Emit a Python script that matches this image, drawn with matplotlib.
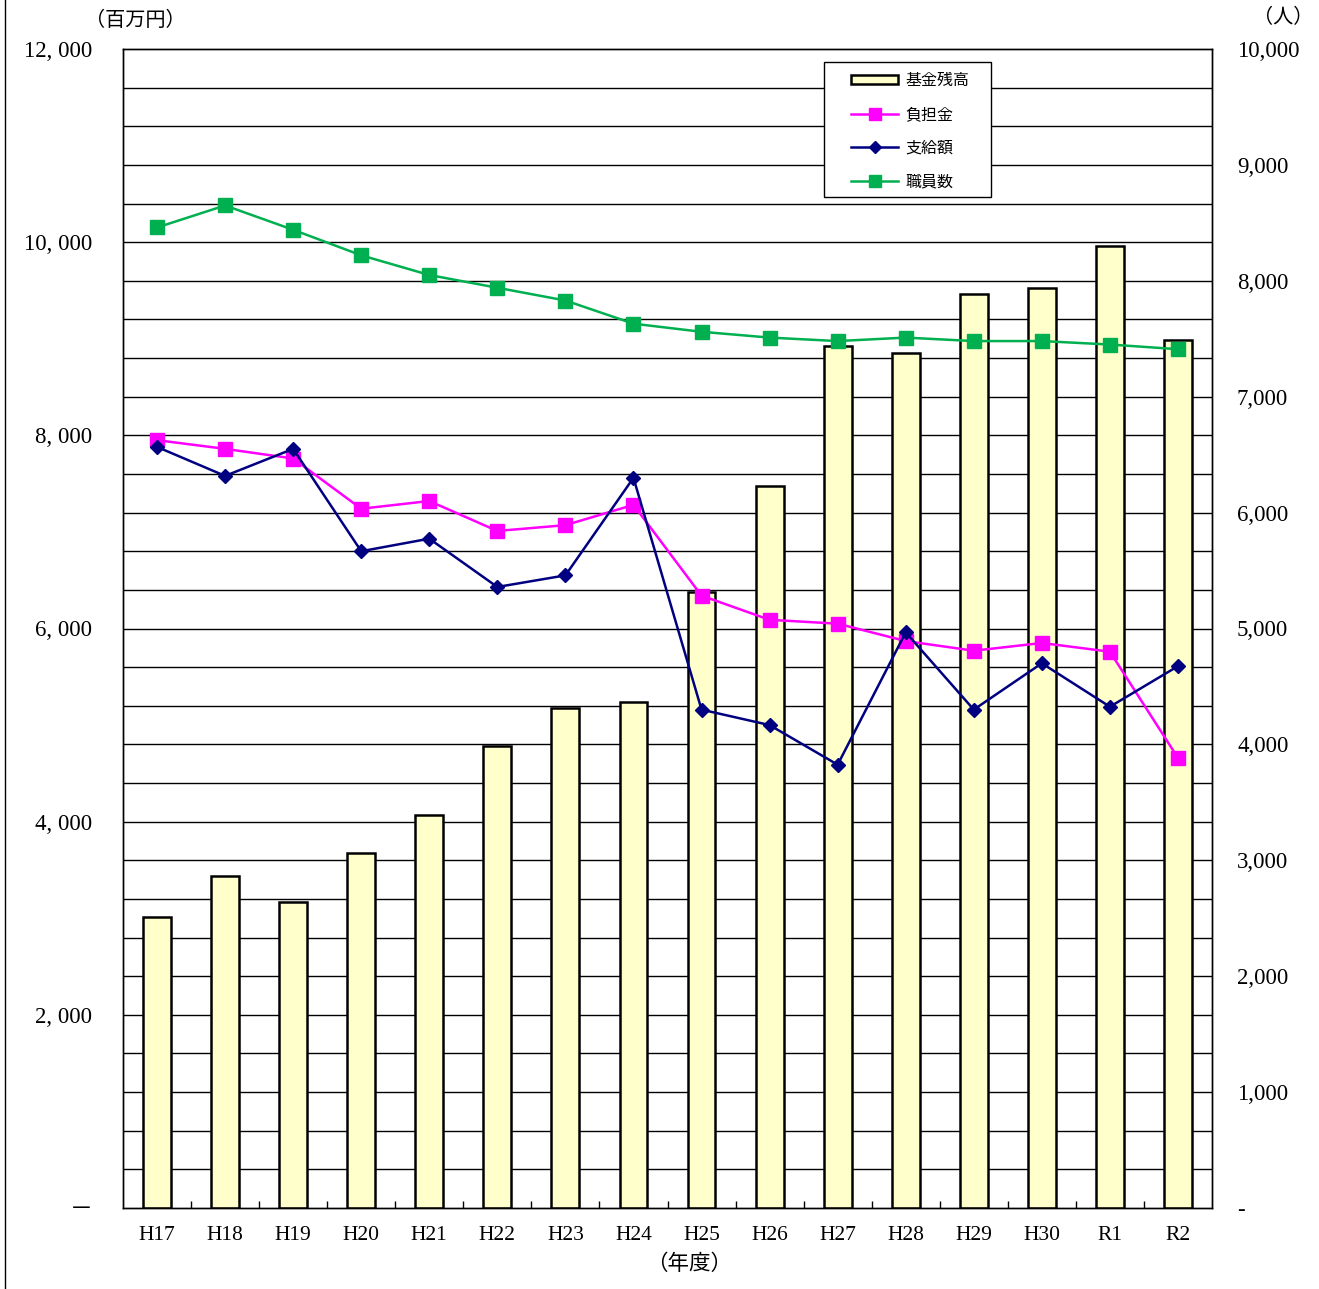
import matplotlib
matplotlib.use("Agg")
import matplotlib.pyplot as plt
import numpy as np
from matplotlib.patches import Rectangle
from matplotlib.ticker import FixedLocator

plt.rcParams["font.family"] = ["Liberation Serif", "Noto Sans CJK JP", "DejaVu Sans"]

years = ["H17", "H18", "H19", "H20", "H21", "H22", "H23", "H24",
         "H25", "H26", "H27", "H28", "H29", "H30", "R1", "R2"]
fund_balance = [3010, 3440, 3170, 3680, 4070, 4780, 5180, 5240,
                6380, 7480, 8930, 8850, 9460, 9530, 9960, 8990]
contribution = [7950, 7860, 7760, 7240, 7320, 7010, 7070, 7280,
                6340, 6090, 6050, 5870, 5770, 5850, 5760, 4660]
payment = [7880, 7580, 7860, 6800, 6930, 6430, 6550, 7560,
           5160, 5000, 4590, 5960, 5160, 5640, 5190, 5610]
staff = [8460, 8650, 8440, 8220, 8050, 7940, 7830, 7630,
         7560, 7510, 7480, 7510, 7480, 7480, 7450, 7410]

W, H = 1319, 1289
fig = plt.figure(figsize=(W / 100, H / 100), dpi=100)
ax = fig.add_axes([123 / W, 1 - 1208 / H, (1212 - 123) / W, (1208 - 49) / H])
ax2 = ax.twinx()

x = np.arange(len(years))
ax.set_zorder(1)
ax.patch.set_visible(False)
ax2.set_zorder(0)

# horizontal grid every 400 on the left scale
for v in np.arange(400, 12000, 400):
    ax.axhline(v, color="black", lw=1.0, zorder=0)

bars = ax.bar(x, fund_balance, width=0.41, color="#FFFFCC", edgecolor="black",
              linewidth=1.8, label="基金残高", zorder=2)
l1, = ax.plot(x, contribution, color="#FF00FF", lw=1.8, marker="s", ms=10,
              label="負担金", zorder=3)
l2, = ax.plot(x, payment, color="#000080", lw=1.8, marker="D", ms=7,
              label="支給額", zorder=4)
l3, = ax.plot(np.nan, np.nan, color="#00B050", lw=1.8, marker="s", ms=10,
              label="職員数")
# staff is on the right scale (0-10000); map to left scale for drawing order
ax.plot(x, np.array(staff) * 12000 / 10000, color="#00B050", lw=1.8,
        marker="s", ms=10, zorder=3)

ax.set_xlim(-0.5, len(years) - 0.5)
ax.set_ylim(0, 12000)
ax2.set_ylim(0, 10000)

ax.set_yticks(np.arange(0, 12001, 2000))
ax.set_yticklabels(["－"] + [f"{v:,}".replace(",", ", ") for v in range(2000, 12001, 2000)],
                   fontsize=16.5)
ax2.set_yticks(np.arange(0, 10001, 1000))
ax2.set_yticklabels(["-"] + [f"{v:,}" for v in range(1000, 10001, 1000)], fontsize=16.5)
ax.tick_params(axis="y", length=0, pad=22)
ax2.tick_params(axis="y", length=0, pad=18)

ax.set_xticks(x)
ax.set_xticklabels(years, fontsize=15.5)
ax.tick_params(axis="x", length=0, pad=13)
ax.xaxis.set_minor_locator(FixedLocator(np.arange(0.5, len(years) - 1, 1)))
ax.tick_params(axis="x", which="minor", direction="in", length=5, width=1)

for a in (ax, ax2):
    for s in a.spines.values():
        s.set_linewidth(1.0)
        s.set_color("black")

ax.text((689 - 123) / 1089, -0.039, "（年度）", transform=ax.transAxes, ha="center",
        va="top", fontsize=15.5, family=["Noto Sans CJK JP"])
fig.text(135 / W, 1 - 20 / H, "（百万円）", ha="center", va="center", fontsize=14.5,
         family=["Noto Sans CJK JP"])
fig.text(1283 / W, 1 - 18 / H, "（人）", ha="center", va="center", fontsize=14.5,
         family=["Noto Sans CJK JP"])

# legend box drawn separately, entries placed inside it
fig.add_artist(Rectangle((824 / W, 1 - 197 / H), (991 - 824) / W, (197 - 62) / H,
                         transform=fig.transFigure, facecolor="white",
                         edgecolor="black", lw=1.0, zorder=9))
leg = fig.legend([bars, l1, l2, l3], ["基金残高", "負担金", "支給額", "職員数"],
                 loc="upper left", bbox_to_anchor=(851 / W, 1 - 72 / H),
                 borderaxespad=0, borderpad=0,
                 prop={"family": ["Noto Sans CJK JP"], "size": 11.5},
                 frameon=False, handlelength=2.95, handletextpad=0.45,
                 labelspacing=1.05, handleheight=0.5, markerscale=0.85)
leg.set_zorder(10)

fig.add_artist(plt.Line2D([5 / W, 5 / W], [0, 1], color="black", lw=1.0))

fig.savefig("out.png", dpi=100)
